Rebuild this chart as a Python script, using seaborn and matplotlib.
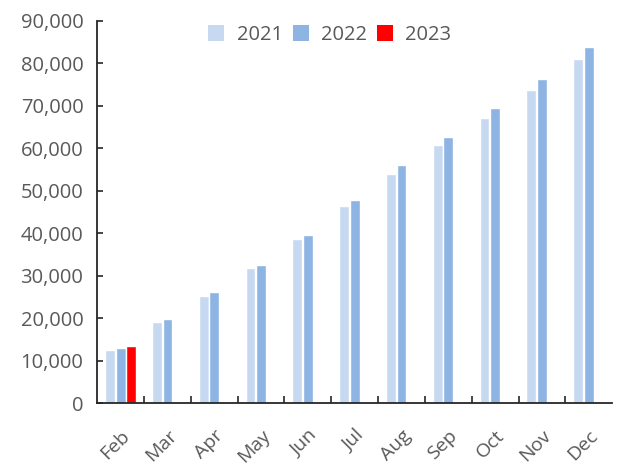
import matplotlib
matplotlib.use("Agg")
import matplotlib.pyplot as plt
import seaborn as sns
import pandas as pd
import numpy as np
from matplotlib.ticker import FuncFormatter, FixedLocator
from matplotlib.patches import Patch

months = ["Feb", "Mar", "Apr", "May", "Jun", "Jul", "Aug", "Sep", "Oct", "Nov", "Dec"]
years = ["2021", "2022", "2023"]
values_2021 = [12490, 19090, 25210, 31730, 38640, 46420, 53960, 60720, 67080, 73750, 81050]
values_2022 = [13030, 19800, 26080, 32440, 39660, 47760, 56080, 62750, 69580, 76340, 83810]
values_2023 = [13500]  # Feb only
colors = ["#C6D9F1", "#8DB4E2", "#FF0000"]

rows = []
for m, v in zip(months, values_2021):
    rows.append((m, "2021", v))
for m, v in zip(months, values_2022):
    rows.append((m, "2022", v))
for m, v in zip(months, values_2023):
    rows.append((m, "2023", v))
df = pd.DataFrame(rows, columns=["month", "year", "value"])

sns.set_theme(style="white")
plt.rcParams["font.family"] = ["Open Sans", "DejaVu Sans"]
text_color = "#595959"

fig = plt.figure(figsize=(6.33, 4.66), dpi=100)
ax = fig.add_axes([0.1537, 0.135, 0.8133, 0.82])

sns.barplot(data=df, x="month", y="value", hue="year", order=months,
            hue_order=years, palette=colors, width=0.68, gap=0.06,
            saturation=1, ax=ax, legend=False)

ax.set_xlim(-0.5, len(months) - 0.5)
ax.set_ylim(0, 90000)
ax.set_yticks(np.arange(0, 90001, 10000))
ax.yaxis.set_major_formatter(FuncFormatter(lambda v, p: f"{int(v):,}"))
ax.set_xlabel("")
ax.set_ylabel("")

for s in ["top", "right"]:
    ax.spines[s].set_visible(False)
for s in ["left", "bottom"]:
    ax.spines[s].set_color("#262626")
    ax.spines[s].set_linewidth(1.3)

ax.tick_params(axis="y", direction="in", length=4, width=1.2, color="#262626",
               labelsize=14.5, labelcolor=text_color, pad=10, left=True)
ax.tick_params(axis="x", which="major", length=0, labelsize=14, labelcolor=text_color, pad=17)
ax.xaxis.set_minor_locator(FixedLocator(np.arange(0.5, len(months) - 0.5, 1)))
ax.tick_params(axis="x", which="minor", direction="in", length=5, width=1.2,
               color="#262626", bottom=True)
for lbl in ax.get_xticklabels():
    lbl.set_rotation(45)
    lbl.set_ha("right")
    lbl.set_rotation_mode("anchor")

handles = [Patch(facecolor=c, edgecolor="none", label=y) for c, y in zip(colors, years)]
fig.legend(handles=handles, loc="center", bbox_to_anchor=(0.521, 0.925), ncol=3,
           frameon=False, fontsize=14.5, handlelength=0.8, handleheight=0.8,
           handletextpad=0.6, columnspacing=0.5, labelcolor=text_color)

fig.savefig("out.png", dpi=100)
